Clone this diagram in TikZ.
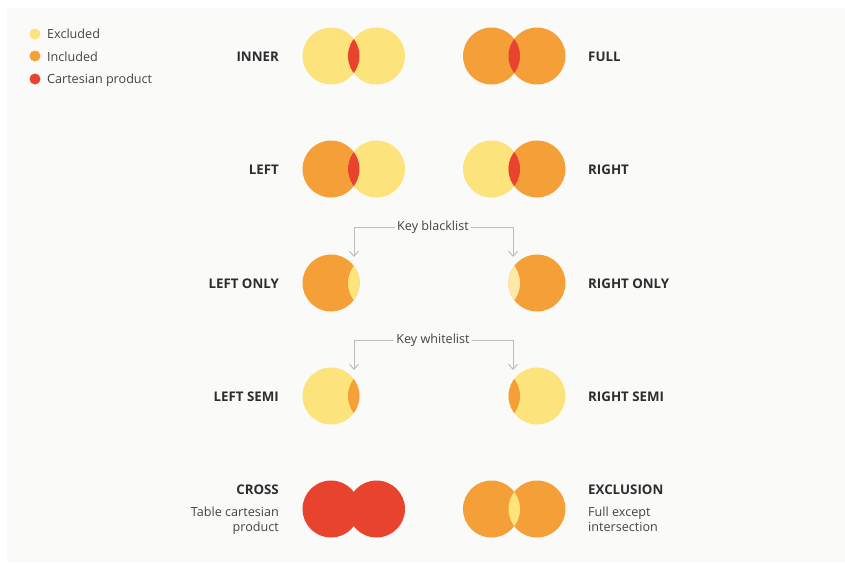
\documentclass[tikz,border=0pt]{standalone}
\usepackage{fontspec}
\setmainfont{Open Sans}
\usetikzlibrary{arrows.meta}

\definecolor{excl}{HTML}{FDE37B}
\definecolor{incl}{HTML}{F49F37}
\definecolor{cart}{HTML}{E8432E}
\definecolor{paleexcl}{HTML}{FDE9A6}
\definecolor{panel}{HTML}{FAFAF9}
\definecolor{keyline}{HTML}{BDBDBD}
\definecolor{ink}{HTML}{222222}

\begin{document}
\begin{tikzpicture}[
    x=1pt, y=-1pt,
    disc/.style={circle, inner sep=0pt, minimum size=57pt},
    dot/.style={circle, inner sep=0pt, minimum size=11pt},
    legend/.style={anchor=west, inner sep=0pt, font=\fontsize{12.6}{14}\selectfont, text=ink!85},
    joinl/.style={anchor=east, inner sep=0pt, font=\fontsize{13.3}{15}\selectfont\bfseries, text=ink!95},
    joinr/.style={anchor=west, inner sep=0pt, font=\fontsize{13.3}{15}\selectfont\bfseries, text=ink!95},
    note/.style={inner sep=0pt, font=\fontsize{12.6}{15}\selectfont, text=ink!85},
    keytext/.style={fill=panel, inner sep=2pt, font=\fontsize{12.6}{14}\selectfont, text=ink!85},
    line/.style={draw=keyline, line width=1pt, -{Straight Barb[length=5pt,width=9pt]}}
]

\fill[white] (0,0) rectangle (845,562);
\fill[panel] (7,8) rectangle (845,562);

% legend
\node[dot, fill=excl] (dexcl) at (35,34) {};
\node[dot, fill=incl] (dincl) at (35,56) {};
\node[dot, fill=cart] (dcart) at (35,79) {};
\node[legend] (texcl) at (47,34) {Excluded};
\node[legend] (tincl) at (47,57) {Included};
\node[legend] (tcart) at (47,80) {Cartesian product};

% inner
\node[disc, fill=excl] (innerL) at (331,56) {};
\node[disc, fill=excl] (innerR) at (376.5,56) {};
\begin{scope}\clip (331,56) circle (28.5pt); \fill[cart] (376.5,56) circle (28.5pt);\end{scope}
\node[joinl] (tinner) at (279,57) {INNER};

% full
\node[disc, fill=incl] (fullL) at (491.5,56) {};
\node[disc, fill=incl] (fullR) at (537,56) {};
\begin{scope}\clip (491.5,56) circle (28.5pt); \fill[cart] (537,56) circle (28.5pt);\end{scope}
\node[joinr] (tfull) at (588,57) {FULL};

% left
\node[disc, fill=incl] (leftL) at (331,169) {};
\node[disc, fill=excl] (leftR) at (376.5,169) {};
\begin{scope}\clip (331,169) circle (28.5pt); \fill[cart] (376.5,169) circle (28.5pt);\end{scope}
\node[joinl] (tleft) at (279,170) {LEFT};

% right
\node[disc, fill=excl] (rightL) at (491.5,169) {};
\node[disc, fill=incl] (rightR) at (537,169) {};
\begin{scope}\clip (491.5,169) circle (28.5pt); \fill[cart] (537,169) circle (28.5pt);\end{scope}
\node[joinr] (tright) at (588,170) {RIGHT};

% left only / right only
\node[disc, fill=incl] (lonly) at (331,283) {};
\begin{scope}\clip (331,283) circle (28.5pt); \fill[excl] (376.5,283) circle (28.5pt);\end{scope}
\node[joinl] (tlonly) at (279,284) {LEFT ONLY};

\node[disc, fill=incl] (ronly) at (537,283) {};
\begin{scope}\clip (537,283) circle (28.5pt); \fill[paleexcl] (491.5,283) circle (28.5pt);\end{scope}
\node[joinr] (tronly) at (588,284) {RIGHT ONLY};

\node[keytext] (black) at (433,227) {Key blacklist};
\coordinate (blackL) at (354,257);
\coordinate (blackR) at (513,257);
\draw[line] (black.west) -| (blackL);
\draw[line] (black.east) -| (blackR);

% left semi / right semi
\node[disc, fill=excl] (lsemi) at (331,396) {};
\begin{scope}\clip (331,396) circle (28.5pt); \fill[incl] (376.5,396) circle (28.5pt);\end{scope}
\node[joinl] (tlsemi) at (279,397) {LEFT SEMI};

\node[disc, fill=excl] (rsemi) at (537,396) {};
\begin{scope}\clip (537,396) circle (28.5pt); \fill[incl] (491.5,396) circle (28.5pt);\end{scope}
\node[joinr] (trsemi) at (588,397) {RIGHT SEMI};

\node[keytext] (white) at (433,340) {Key whitelist};
\coordinate (whiteL) at (354,370);
\coordinate (whiteR) at (513,370);
\draw[line] (white.west) -| (whiteL);
\draw[line] (white.east) -| (whiteR);

% cross
\node[disc, fill=cart] (crossL) at (331,509) {};
\node[disc, fill=cart] (crossR) at (376.5,509) {};
\node[joinl] (tcross) at (279,490) {CROSS};
\node[note, anchor=north east, align=right] (ncross) at (279,507) {Table cartesian\\product};

% exclusion
\node[disc, fill=incl] (exclL) at (491.5,509) {};
\node[disc, fill=incl] (exclR) at (537,509) {};
\begin{scope}\clip (491.5,509) circle (28.5pt); \fill[excl] (537,509) circle (28.5pt);\end{scope}
\node[joinr] (texclu) at (588,490) {EXCLUSION};
\node[note, anchor=north west, align=left] (nexclu) at (588,507) {Full except\\intersection};

\end{tikzpicture}
\end{document}
